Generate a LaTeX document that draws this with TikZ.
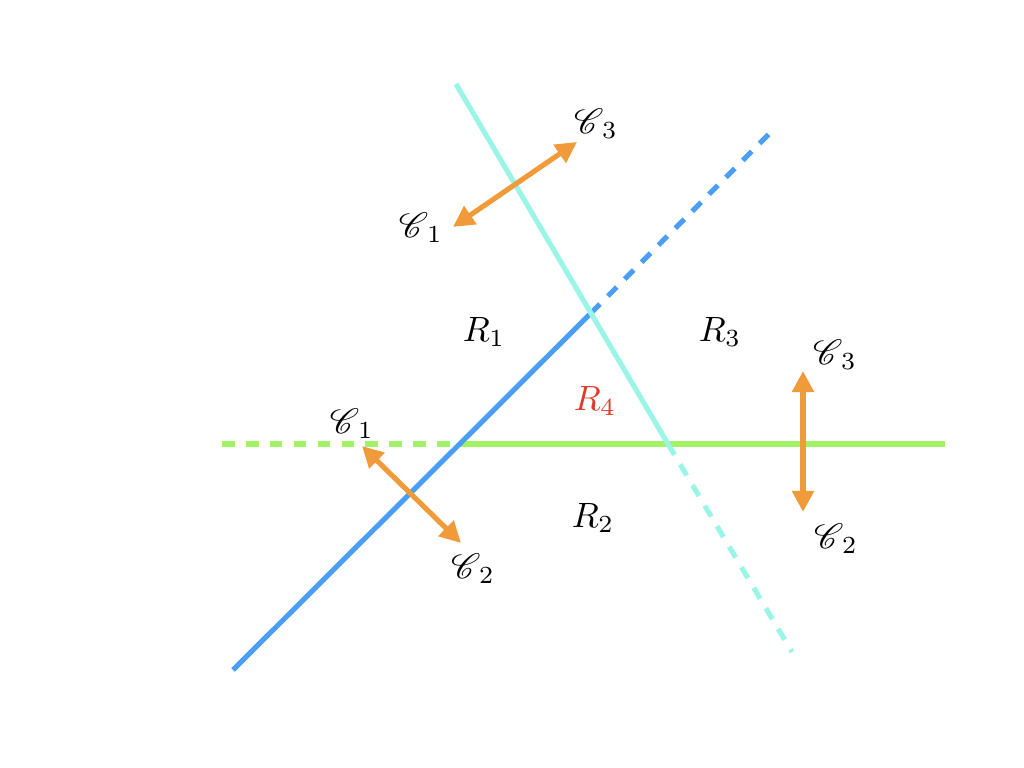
\documentclass[tikz,border=0pt]{standalone}
\usepackage{mathrsfs}
\usetikzlibrary{arrows.meta}
\definecolor{lgreen}{HTML}{A2F266}
\definecolor{lblue}{HTML}{4A9EF5}
\definecolor{lcyan}{HTML}{9AF5E6}
\definecolor{lorange}{HTML}{F09A3A}
\definecolor{lred}{HTML}{E03A2A}
\tikzset{
  bound/.style={line width=1.45pt},
  dsh/.style={dash pattern=on 3.6pt off 3.2pt},
  dir/.style={lorange, line width=1.45pt, {Triangle[length=6pt,width=6pt]}-{Triangle[length=6pt,width=6pt]}},
  lbl/.style={inner sep=0pt, font=\normalsize}
}
\begin{document}
\begin{tikzpicture}[x=0.01cm,y=-0.01cm]
\useasboundingbox (0,0) rectangle (1024,768);
% line end points
\coordinate (g0) at (222,444);
\coordinate (g1) at (460,444);
\coordinate (g2) at (945,444);
\coordinate (b0) at (233,670);
\coordinate (b1) at (591,313);
\coordinate (b2) at (773,130);
\coordinate (c0) at (456,84);
\coordinate (c1) at (668,444);
\coordinate (c2) at (792,652);
% green
\draw[bound, lgreen, dsh] (g0) -- (g1);
\draw[bound, lgreen] (g1) -- (g2);
% blue
\draw[bound, lblue] (b0) -- (b1);
\draw[bound, lblue, dsh] (b1) -- (b2);
% cyan
\draw[bound, lcyan] (c0) -- (c1);
\draw[bound, lcyan, dsh] (c1) -- (c2);
% arrows
\coordinate (a1) at (453,227);
\coordinate (a2) at (577,142);
\coordinate (a3) at (362,446);
\coordinate (a4) at (461,543);
\coordinate (a5) at (803,371);
\coordinate (a6) at (803,512);
\draw[dir] (a1) -- (a2);
\draw[dir] (a3) -- (a4);
\draw[dir] (a5) -- (a6);
% labels
\node[lbl] (tC1) at (421,228) {$\mathscr{C}_{\,1}$};
\node[lbl] (tC3) at (596,124) {$\mathscr{C}_{\,3}$};
\node[lbl] (lC1) at (352,424) {$\mathscr{C}_{\,1}$};
\node[lbl] (lC2) at (473,569) {$\mathscr{C}_{\,2}$};
\node[lbl] (rC3) at (835,355) {$\mathscr{C}_{\,3}$};
\node[lbl] (rC2) at (836,539) {$\mathscr{C}_{\,2}$};
\node[lbl] (R1) at (484,332) {$R_1$};
\node[lbl] (R3) at (720,332) {$R_3$};
\node[lbl, lred] (R4) at (595,401) {$R_4$};
\node[lbl] (R2) at (593,518) {$R_2$};
\end{tikzpicture}
\end{document}
